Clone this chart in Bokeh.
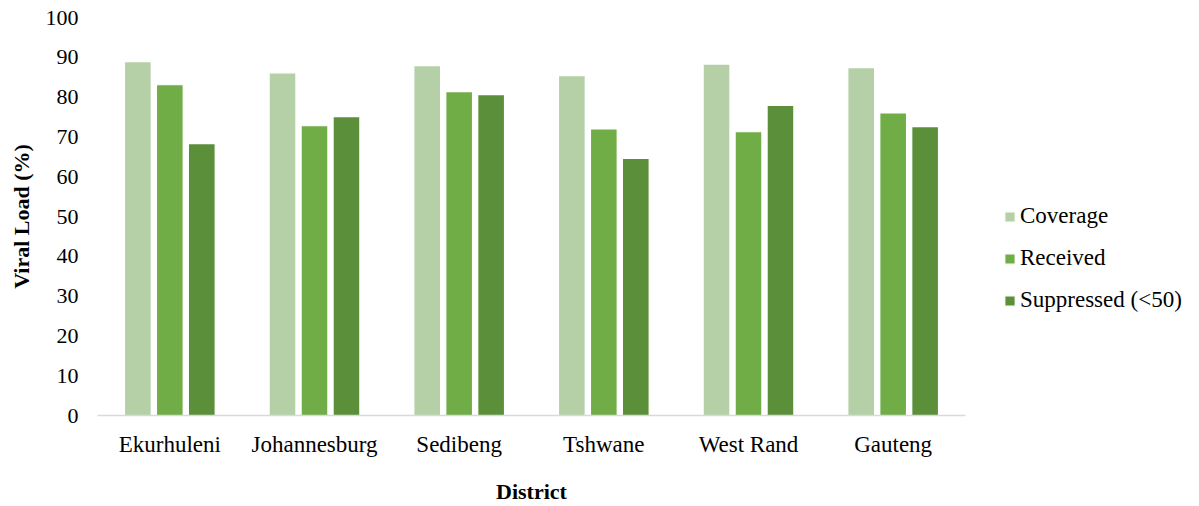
from bokeh.plotting import figure
from bokeh.models import FactorRange, Legend, LegendItem, ColumnDataSource
from bokeh.transform import dodge
from bokeh.embed import file_html
from bokeh.resources import INLINE

districts = ["Ekurhuleni", "Johannesburg", "Sedibeng", "Tshwane", "West Rand", "Gauteng"]
coverage = [88.9, 86.1, 87.9, 85.4, 88.3, 87.4]
received = [83.1, 72.8, 81.4, 72.0, 71.3, 76.0]
suppressed = [68.3, 75.1, 80.6, 64.6, 77.9, 72.6]
series_names = ["Coverage", "Received", "Suppressed (<50)"]
colors = ["#B5CFA7", "#70AD47", "#5B8F3A"]

FONT = "Liberation Serif"

src = ColumnDataSource(dict(d=districts, cov=coverage, rec=received, sup=suppressed))

p = figure(x_range=FactorRange(*districts), y_range=(0, 100),
           frame_width=868, frame_height=398, output_backend="svg", toolbar_location=None,
           min_border_left=97, min_border_top=17, min_border_bottom=2, min_border_right=0)

offs = [-0.221, 0.0, 0.221]
cols = ["cov", "rec", "sup"]
renderers = []
for off, c, col in zip(offs, cols, colors):
    r = p.vbar(x=dodge("d", off, range=p.x_range), top=c, bottom=0, width=0.185,
               source=src, fill_color=col, line_color="white", line_width=1.2)
    renderers.append(r)

p.grid.visible = False
p.outline_line_color = None
p.background_fill_color = "white"
p.border_fill_color = "white"

p.yaxis.ticker = list(range(0, 101, 10))
p.yaxis.axis_line_color = None
p.yaxis.major_tick_line_color = None
p.yaxis.minor_tick_line_color = None
p.yaxis.major_tick_out = 0
p.yaxis.minor_tick_out = 0
p.yaxis.major_label_text_font = FONT
p.yaxis.major_label_text_font_size = "22px"
p.yaxis.major_label_text_color = "black"
p.yaxis.major_label_standoff = 19
p.yaxis.axis_label = "Viral Load (%)"
p.yaxis.axis_label_text_font = FONT
p.yaxis.axis_label_text_font_size = "22px"
p.yaxis.axis_label_text_font_style = "bold"
p.yaxis.axis_label_text_color = "black"
p.yaxis.axis_label_standoff = 9

p.xaxis.axis_line_color = "#D9D9D9"
p.xaxis.axis_line_width = 1.5
p.xaxis.major_tick_line_color = None
p.xaxis.minor_tick_line_color = None
p.xaxis.major_tick_out = 0
p.xaxis.minor_tick_out = 0
p.xaxis.major_label_text_font = FONT
p.xaxis.major_label_text_font_size = "23px"
p.xaxis.major_label_text_color = "black"
p.xaxis.major_label_standoff = 16
p.xaxis.axis_label = "District"
p.xaxis.axis_label_text_font = FONT
p.xaxis.axis_label_text_font_size = "22px"
p.xaxis.axis_label_text_font_style = "bold"
p.xaxis.axis_label_text_color = "black"
p.xaxis.axis_label_standoff = 19

legend = Legend(items=[LegendItem(label=n, renderers=[r]) for n, r in zip(series_names, renderers)],
                label_text_font=FONT, label_text_font_size="23px", label_text_color="black",
                glyph_width=13, glyph_height=13, spacing=16, label_standoff=4,
                border_line_color=None, background_fill_alpha=0, margin=0, padding=0,
                location=(38, 102))
p.add_layout(legend, "right")
p.min_border_right = 40

open("out.html", "w").write(file_html(p, INLINE))
